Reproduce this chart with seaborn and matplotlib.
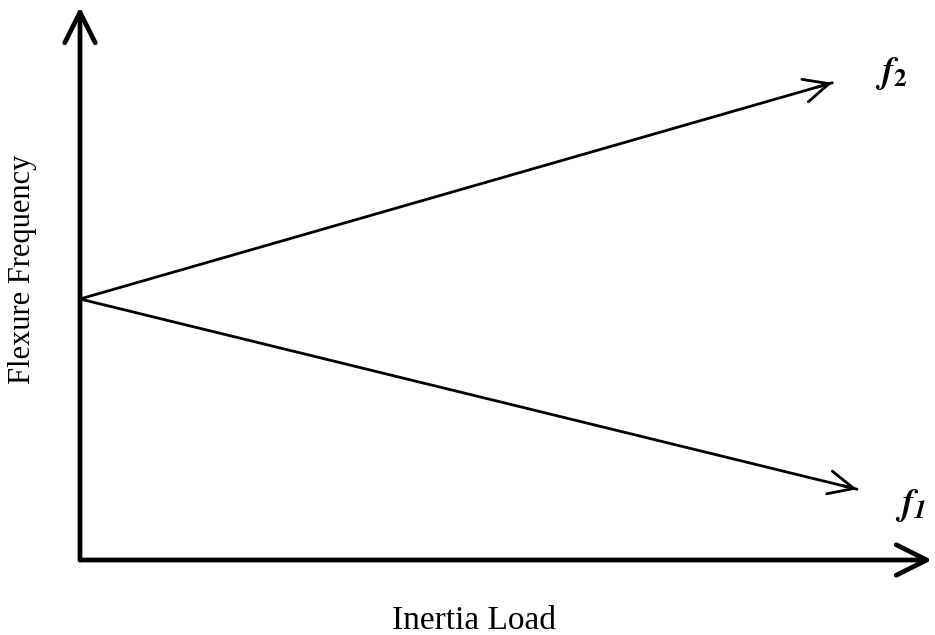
import pandas as pd
import matplotlib
matplotlib.use('Agg')
import matplotlib.pyplot as plt
import seaborn as sns

# schematic values: inertia load (0..1 of axis) vs flexure frequency
load = [0.0, 0.883, 0.0, 0.912]
freq = [0.472, 0.863, 0.472, 0.128]
mode = ['f2', 'f2', 'f1', 'f1']
mode_labels = {'f2': r'$\mathbfit{f}_{\mathbf{2}}$', 'f1': r'$\mathbfit{f}_{\mathbfit{1}}$'}

sns.set_style('white')
plt.rcParams['font.family'] = ['Liberation Serif', 'DejaVu Serif']
plt.rcParams['mathtext.fontset'] = 'stix'
plt.rcParams['text.color'] = 'black'
plt.rcParams['axes.labelcolor'] = 'black'

df = pd.DataFrame({'load': load, 'freq': freq, 'mode': mode})

fig = plt.figure(figsize=(9.35, 6.35), dpi=100)
ax = fig.add_axes([80 / 935, 75 / 635, 852 / 935, 553 / 635])

sns.lineplot(data=df, x='load', y='freq', units='mode', estimator=None,
             color='black', lw=2, ax=ax, legend=False, sort=False)

ax.set_xlim(0, 1)
ax.set_ylim(0, 1)

# open arrowheads at line ends plus the labels
for m, g in df.groupby('mode'):
    x0, x1 = g['load'].iloc[0], g['load'].iloc[-1]
    y0, y1 = g['freq'].iloc[0], g['freq'].iloc[-1]
    dx, dy = (x1 - x0) * 0.02, (y1 - y0) * 0.02
    ax.annotate('', xy=(x1, y1), xytext=(x1 - dx, y1 - dy),
                arrowprops=dict(arrowstyle='->,head_length=0.9,head_width=0.42',
                                mutation_scale=20, color='black', lw=2,
                                shrinkA=0, shrinkB=0))
    if m == 'f2':
        ax.text(x1 + 0.069, y1 + 0.017, mode_labels[m], fontsize=26,
                ha='center', va='center', color='black')
    else:
        ax.text(x1 + 0.063, y1 - 0.03, mode_labels[m], fontsize=26,
                ha='center', va='center', color='black')

# axes drawn as thick arrows
for tip in [(1, 0), (0, 1)]:
    ax.annotate('', xy=tip, xytext=(0, 0), xycoords='axes fraction',
                arrowprops=dict(arrowstyle='->,head_length=1.1,head_width=0.55',
                                mutation_scale=20, color='black', lw=3.4,
                                shrinkA=0, shrinkB=0))

for s in ax.spines.values():
    s.set_visible(False)
ax.set_xticks([])
ax.set_yticks([])
ax.set_xlabel('Inertia Load', fontsize=24, color='black')
ax.set_ylabel('Flexure Frequency', fontsize=22, color='black')
ax.xaxis.set_label_coords(0.4625, -0.083)
ax.yaxis.set_label_coords(-0.05, 0.526)

plt.savefig('out.png', dpi=100, facecolor='white')
plt.close()
